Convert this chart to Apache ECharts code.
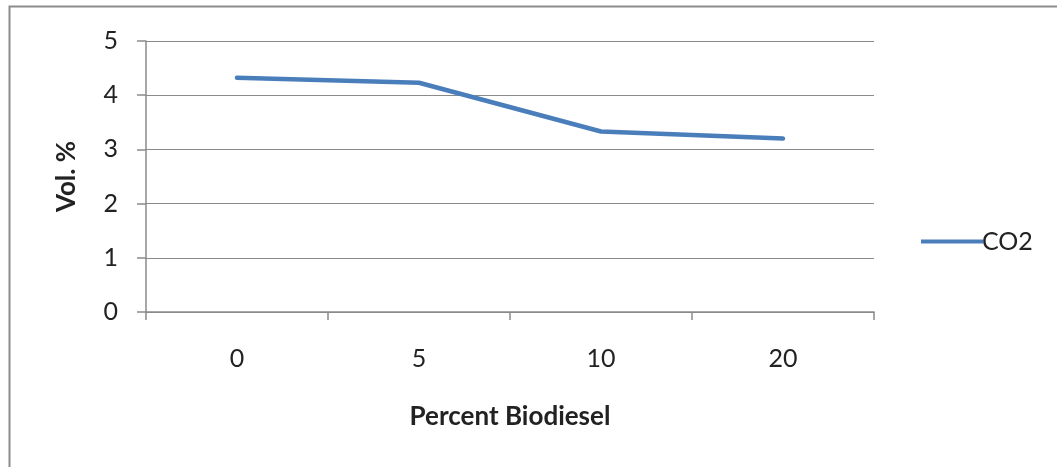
<!DOCTYPE html>
<html><head><meta charset="utf-8">
<script src="https://cdn.jsdelivr.net/npm/echarts@6/dist/echarts.min.js"></script>
<style>html,body{margin:0;padding:0;background:#fff}#c{width:1057px;height:467px}</style>
</head><body><div id="c"></div>
<script>
const categories = ['0', '5', '10', '20'];
const co2 = [4.32, 4.23, 3.33, 3.2];
const yTicks = [0, 1, 2, 3, 4, 5];

const chart = echarts.init(document.getElementById('c'));
const font = 'Lato, "Open Sans", sans-serif';
chart.setOption({
  animation: false,
  backgroundColor: '#fff',
  graphic: [{
    type: 'rect', silent: true,
    shape: { x: 9.5, y: 6.5, width: 1200, height: 600 },
    style: { fill: 'none', stroke: '#8c8c8c', lineWidth: 2 }
  }],
  grid: { left: 146, right: 183, top: 41, bottom: 155 },
  legend: {
    data: ['CO2'], left: 916, top: 224, orient: 'vertical',
    itemWidth: 62, itemHeight: 4, itemGap: 2,
    icon: 'rect',
    textStyle: { fontFamily: font, fontSize: 25, color: '#222', padding: [0, 0, 0, -6] }
  },
  xAxis: {
    type: 'category', data: categories, boundaryGap: true,
    name: 'Percent Biodiesel', nameLocation: 'middle', nameGap: 92,
    nameTextStyle: { fontFamily: font, fontSize: 26, fontWeight: 'bold', color: '#222' },
    axisLine: { lineStyle: { color: '#8a8a8a', width: 1.5 } },
    axisTick: { show: true, length: 8, lineStyle: { color: '#8a8a8a', width: 1.5 } },
    axisLabel: { fontFamily: font, fontSize: 25, color: '#222', margin: 34 }
  },
  yAxis: {
    type: 'value', min: yTicks[0], max: yTicks[yTicks.length - 1], interval: 1,
    name: 'Vol. %', nameLocation: 'middle', nameGap: 66, nameRotate: 90,
    nameTextStyle: { fontFamily: font, fontSize: 26, fontWeight: 'bold', color: '#222' },
    axisLine: { show: true, lineStyle: { color: '#8a8a8a', width: 1.5 } },
    axisTick: { show: true, inside: false, length: 9, lineStyle: { color: '#8a8a8a', width: 1.5 } },
    axisLabel: { fontFamily: font, fontSize: 25, color: '#222', margin: 28 },
    splitLine: { lineStyle: { color: '#8a8a8a', width: 1.2 } }
  },
  series: [{
    name: 'CO2', type: 'line', data: co2, symbol: 'none',
    lineStyle: { color: '#4a7ebb', width: 4.5, cap: 'round' },
    itemStyle: { color: '#4a7ebb' }
  }]
});
</script></body></html>
